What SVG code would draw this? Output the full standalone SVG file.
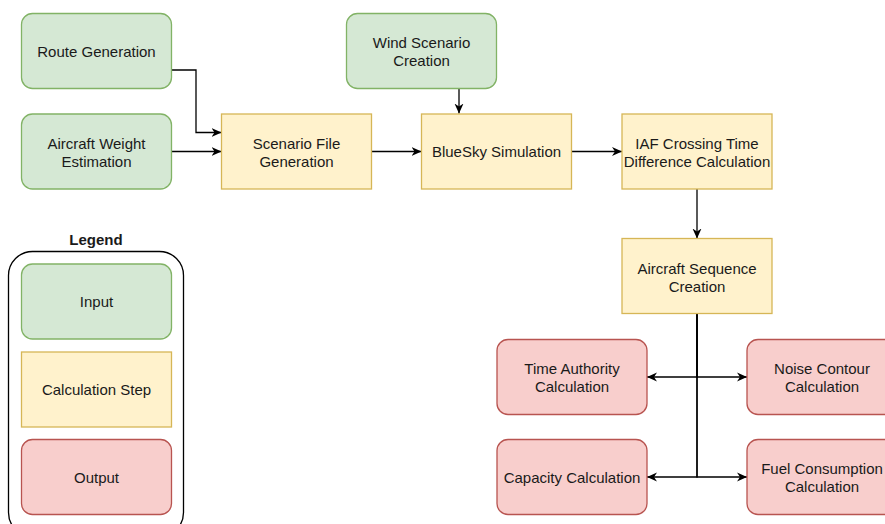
<svg xmlns="http://www.w3.org/2000/svg" width="885" height="524" viewBox="0 0 885 524">
<style>
.in{fill:#d5e8d4;stroke:#82b366;stroke-width:1.3}
.calc{fill:#fff2cc;stroke:#d6b656;stroke-width:1.3}
.out{fill:#f8cecc;stroke:#b85450;stroke-width:1.3}
text{font-family:"Liberation Sans",Arial,Helvetica,sans-serif;font-size:15px;fill:#1a1a1a;text-anchor:middle}
.edge{fill:none;stroke:#000;stroke-width:1.3}
</style>
<defs>
<marker id="arr" viewBox="0 0 10 10" refX="10" refY="5" markerWidth="10" markerHeight="10" markerUnits="userSpaceOnUse" orient="auto-start-reverse">
<path d="M0,0.5 L10,5 L0,9.5 L3,5 z" fill="#000"/>
</marker>
</defs>
<rect width="885" height="524" fill="#fff"/>
<g id="connectors">
<path class="edge" d="M171.5,70 H196 V132.5 H221.5" marker-end="url(#arr)"/>
<path class="edge" d="M171.5,151.5 H221.5" marker-end="url(#arr)"/>
<path class="edge" d="M371.5,151.5 H421.5" marker-end="url(#arr)"/>
<path class="edge" d="M459,89 V113.5" marker-end="url(#arr)"/>
<path class="edge" d="M572,151.5 H622" marker-end="url(#arr)"/>
<path class="edge" d="M697,189 V238.5" marker-end="url(#arr)"/>
<path class="edge" d="M697,314 V377 H647" marker-end="url(#arr)"/>
<path class="edge" d="M697,314 V377 H747" marker-end="url(#arr)"/>
<path class="edge" d="M697,314 V477 H647" marker-end="url(#arr)"/>
<path class="edge" d="M697,314 V477 H747" marker-end="url(#arr)"/>
</g>
<g id="route-generation">
<rect class="in" x="21.5" y="13.5" width="150" height="75" rx="11"/>
<text x="96.5" y="56.5">Route Generation</text>
</g>
<g id="aircraft-weight">
<rect class="in" x="21.5" y="114" width="150" height="75" rx="11"/>
<text x="96.5" y="148.5">Aircraft Weight</text>
<text x="96.5" y="166.5">Estimation</text>
</g>
<g id="wind-scenario">
<rect class="in" x="346.5" y="13.5" width="150" height="75" rx="11"/>
<text x="421.5" y="48">Wind Scenario</text>
<text x="421.5" y="66">Creation</text>
</g>
<g id="scenario-file">
<rect class="calc" x="221.5" y="114" width="150" height="75"/>
<text x="296.5" y="148.5">Scenario File</text>
<text x="296.5" y="166.5">Generation</text>
</g>
<g id="bluesky">
<rect class="calc" x="421.5" y="114" width="150" height="75"/>
<text x="496.5" y="157">BlueSky Simulation</text>
</g>
<g id="iaf-crossing">
<rect class="calc" x="622" y="114" width="150" height="75"/>
<text x="697" y="148.5">IAF Crossing Time</text>
<text x="697" y="166.5">Difference Calculation</text>
</g>
<g id="aircraft-sequence">
<rect class="calc" x="622" y="238.5" width="150" height="75"/>
<text x="697" y="273.5">Aircraft Sequence</text>
<text x="697" y="291.5">Creation</text>
</g>
<g id="time-authority">
<rect class="out" x="497" y="339.5" width="150" height="75" rx="11"/>
<text x="572" y="374">Time Authority</text>
<text x="572" y="392">Calculation</text>
</g>
<g id="noise-contour">
<rect class="out" x="747" y="339.5" width="150" height="75" rx="11"/>
<text x="822" y="374">Noise Contour</text>
<text x="822" y="392">Calculation</text>
</g>
<g id="capacity">
<rect class="out" x="497" y="439.5" width="150" height="75" rx="11"/>
<text x="572" y="482.5">Capacity Calculation</text>
</g>
<g id="fuel-consumption">
<rect class="out" x="747" y="439.5" width="150" height="75" rx="11"/>
<text x="822" y="474">Fuel Consumption</text>
<text x="822" y="492">Calculation</text>
</g>
<g id="legend">
<rect x="8.5" y="251.5" width="175" height="285" rx="24" fill="none" stroke="#000" stroke-width="1.3"/>
<text x="96" y="245" style="font-weight:bold">Legend</text>
<g id="legend-input">
<rect class="in" x="21.5" y="264" width="150" height="75" rx="11"/>
<text x="96.5" y="307">Input</text>
</g>
<g id="legend-calc">
<rect class="calc" x="21.5" y="352" width="150" height="75"/>
<text x="96.5" y="395">Calculation Step</text>
</g>
<g id="legend-output">
<rect class="out" x="21.5" y="439.5" width="150" height="75" rx="11"/>
<text x="96.5" y="482.5">Output</text>
</g>
</g>
</svg>
